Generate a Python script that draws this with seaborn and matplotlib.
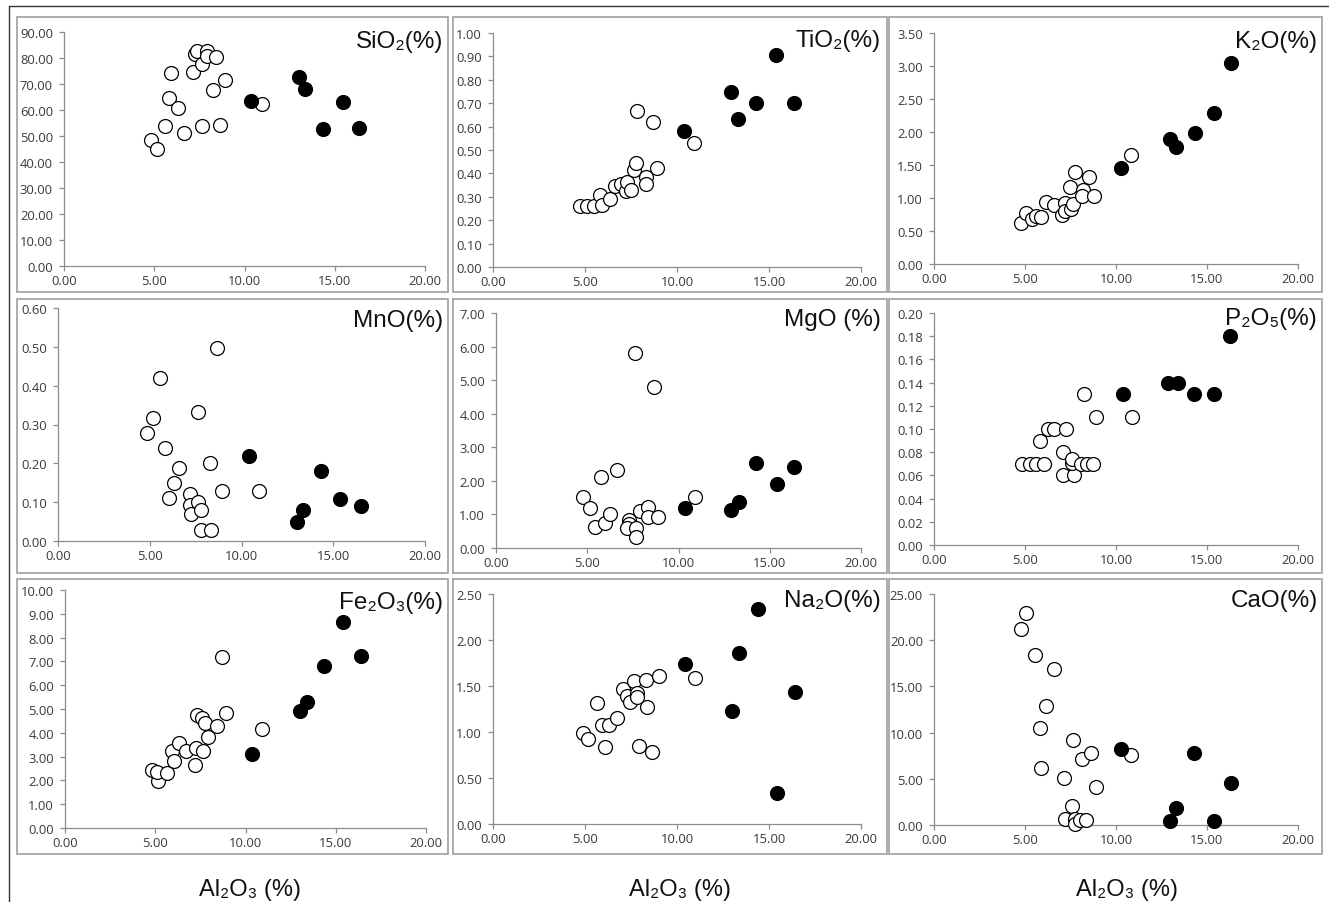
import numpy as np
import pandas as pd
import seaborn as sns
import matplotlib.pyplot as plt
from matplotlib.patches import Rectangle
from matplotlib.lines import Line2D
from matplotlib.ticker import FormatStrFormatter, MultipleLocator

# ---------------- data (Al2O3 % on x, oxide % on y) ----------------
# open circles
sio2_open_al = [4.84, 5.18, 5.58, 5.82, 5.95, 6.30, 6.64, 7.15, 7.25, 7.36, 7.65, 7.62, 7.90, 7.95, 8.41, 8.26, 8.67, 8.91, 10.96]
sio2_open = [48.3, 44.9, 54.0, 64.6, 74.2, 60.9, 51.3, 74.7, 81.4, 82.7, 77.6, 53.7, 82.6, 80.9, 80.4, 67.8, 54.4, 71.7, 62.3]
# filled circles
sio2_fill_al = [10.35, 13.00, 13.35, 14.36, 15.43, 16.36]
sio2_fill = [63.3, 72.7, 68.2, 52.8, 62.9, 53.1]

tio2_open_al = [4.75, 5.11, 5.48, 5.80, 5.93, 6.38, 6.62, 6.98, 7.22, 7.29, 7.52, 7.65, 7.76, 7.83, 8.34, 8.31, 8.70, 8.90, 10.90]
tio2_open = [0.259, 0.259, 0.259, 0.306, 0.267, 0.289, 0.346, 0.356, 0.324, 0.363, 0.331, 0.413, 0.445, 0.668, 0.384, 0.356, 0.621, 0.424, 0.529]
tio2_fill_al = [10.39, 12.96, 13.33, 14.32, 15.38, 16.34]
tio2_fill = [0.580, 0.748, 0.632, 0.700, 0.906, 0.700]

k2o_open_al = [4.80, 5.05, 5.40, 5.62, 5.90, 6.15, 6.60, 7.05, 7.18, 7.18, 7.55, 7.65, 7.48, 7.72, 8.20, 8.15, 8.52, 8.80, 10.85]
k2o_open = [0.616, 0.768, 0.677, 0.732, 0.707, 0.939, 0.894, 0.742, 0.929, 0.808, 0.838, 0.909, 1.162, 1.389, 1.126, 1.025, 1.323, 1.035, 1.646]
k2o_fill_al = [10.30, 12.95, 13.28, 14.32, 15.38, 16.30]
k2o_fill = [1.455, 1.889, 1.778, 1.985, 2.288, 3.050]

mno_open_al = [4.85, 5.15, 5.58, 5.85, 6.04, 6.33, 6.60, 7.18, 7.18, 7.27, 7.64, 7.64, 7.82, 7.82, 8.31, 8.36, 8.64, 8.95, 10.95]
mno_open = [0.279, 0.318, 0.419, 0.239, 0.110, 0.149, 0.189, 0.120, 0.093, 0.069, 0.101, 0.331, 0.080, 0.029, 0.200, 0.029, 0.497, 0.129, 0.129]
mno_fill_al = [10.40, 13.00, 13.33, 14.33, 15.36, 16.49]
mno_fill = [0.219, 0.048, 0.080, 0.179, 0.109, 0.089]

mgo_open_al = [4.76, 5.14, 5.45, 5.73, 5.95, 6.26, 6.64, 7.28, 7.28, 7.17, 7.65, 7.69, 7.63, 7.87, 8.33, 8.33, 8.64, 8.87, 10.91]
mgo_open = [1.51, 1.20, 0.62, 2.11, 0.73, 1.00, 2.33, 0.84, 0.72, 0.59, 0.59, 0.32, 5.81, 1.11, 1.21, 0.91, 4.79, 0.93, 1.51]
mgo_fill_al = [10.34, 12.90, 13.30, 14.24, 15.37, 16.34]
mgo_fill = [1.18, 1.13, 1.38, 2.53, 1.91, 2.40]

p2o5_open_al = [4.84, 5.25, 5.63, 6.02, 5.82, 6.28, 6.61, 7.28, 7.10, 7.10, 7.71, 7.56, 7.60, 8.07, 8.39, 8.72, 8.26, 8.88, 10.86]
p2o5_open = [0.070, 0.070, 0.070, 0.070, 0.090, 0.100, 0.100, 0.100, 0.080, 0.060, 0.060, 0.071, 0.074, 0.070, 0.070, 0.070, 0.130, 0.110, 0.110]
p2o5_fill_al = [10.37, 12.84, 13.39, 14.31, 15.36, 16.29]
p2o5_fill = [0.130, 0.140, 0.140, 0.130, 0.130, 0.180]

fe2o3_open_al = [4.84, 5.13, 5.08, 5.63, 5.91, 6.04, 6.33, 6.70, 7.20, 7.26, 7.29, 7.61, 7.76, 7.66, 7.90, 8.40, 8.68, 8.92, 10.93]
fe2o3_open = [2.45, 1.99, 2.34, 2.29, 3.24, 2.80, 3.59, 3.24, 2.66, 3.36, 4.76, 4.64, 4.43, 3.22, 3.83, 4.27, 7.19, 4.85, 4.15]
fe2o3_fill_al = [10.38, 13.02, 13.39, 14.37, 15.38, 16.40]
fe2o3_fill = [3.13, 4.92, 5.31, 6.81, 8.66, 7.23]

na2o_open_al = [4.90, 5.17, 5.66, 5.93, 6.07, 6.31, 6.76, 7.07, 7.29, 7.44, 7.65, 7.80, 7.80, 7.93, 8.34, 8.38, 8.65, 9.01, 10.97]
na2o_open = [0.986, 0.924, 1.310, 1.080, 0.833, 1.080, 1.149, 1.467, 1.395, 1.322, 1.558, 1.420, 1.377, 0.851, 1.565, 1.268, 0.779, 1.612, 1.587]
na2o_fill_al = [10.43, 13.00, 13.36, 14.38, 15.41, 16.41]
na2o_fill = [1.739, 1.225, 1.862, 2.337, 0.337, 1.438]

cao_open_al = [4.76, 5.07, 5.53, 5.81, 5.90, 6.17, 6.59, 7.12, 7.18, 7.58, 7.64, 7.73, 7.77, 8.00, 8.15, 8.33, 8.64, 8.88, 10.84]
cao_open = [21.25, 22.95, 18.44, 10.45, 6.20, 12.86, 16.93, 5.04, 0.61, 2.05, 9.19, 0.61, 0.07, 0.50, 7.17, 0.50, 7.82, 4.14, 7.56]
cao_fill_al = [10.26, 12.95, 13.28, 14.27, 15.37, 16.30]
cao_fill = [8.18, 0.43, 1.80, 7.82, 0.43, 4.50]

titles = ["SiO₂(%)", "TiO₂(%)", "K₂O(%)", "MnO(%)", "MgO (%)", "P₂O₅(%)", "Fe₂O₃(%)", "Na₂O(%)", "CaO(%)"]
y_max = [90, 1.0, 3.5, 0.6, 7.0, 0.2, 10.0, 2.5, 25.0]
y_step = [10, 0.1, 0.5, 0.1, 1.0, 0.02, 1.0, 0.5, 5.0]
x_label = "Al₂O₃ (%)"

series = [
    (sio2_open_al, sio2_open, sio2_fill_al, sio2_fill),
    (tio2_open_al, tio2_open, tio2_fill_al, tio2_fill),
    (k2o_open_al, k2o_open, k2o_fill_al, k2o_fill),
    (mno_open_al, mno_open, mno_fill_al, mno_fill),
    (mgo_open_al, mgo_open, mgo_fill_al, mgo_fill),
    (p2o5_open_al, p2o5_open, p2o5_fill_al, p2o5_fill),
    (fe2o3_open_al, fe2o3_open, fe2o3_fill_al, fe2o3_fill),
    (na2o_open_al, na2o_open, na2o_fill_al, na2o_fill),
    (cao_open_al, cao_open, cao_fill_al, cao_fill),
]

# ---------------- layout (pixels) ----------------
W, H = 1329, 903
axes_px = [  # left, right, top, bottom
    (64, 425, 33, 267), (493, 861, 34, 268), (934, 1298, 34, 265),
    (58, 425, 309, 542), (496, 861, 314, 549), (934, 1298, 314, 546),
    (65, 426, 591, 829), (493, 861, 595, 825), (934, 1298, 595, 826),
]
box_cols = [(17, 448), (453, 887), (889, 1322)]
box_rows = [(18, 293), (300, 574), (580, 855)]
title_pos = [  # right x, baseline y
    (443, 48), (881, 47), (1317, 48),
    (443, 327), (881, 326), (1317, 325),
    (443, 609), (881, 607), (1318, 607),
]
label_cx = [250, 680, 1127]

sns.set_theme(style="white")
plt.rcParams['font.family'] = ['Open Sans', 'DejaVu Sans']

fig = plt.figure(figsize=(W / 100, H / 100), dpi=100)
fig.patch.set_facecolor("white")

# outer frame lines (left and top)
fig.add_artist(Line2D([9 / W, 9 / W], [0, 1 - 7 / H], color="#333333", lw=1.0))
fig.add_artist(Line2D([9 / W, 1], [1 - 7 / H, 1 - 7 / H], color="#333333", lw=1.0))

# panel boxes
for (t, b) in box_rows:
    for (l, r) in box_cols:
        fig.add_artist(Rectangle((l / W, 1 - b / H), (r - l) / W, (b - t) / H,
                                 fill=False, edgecolor="#a6a6a6", lw=1.3))

spine_col = "#8c8c8c"
for i, (ox, oy, fx, fy) in enumerate(series):
    l, r, t, b = axes_px[i]
    ax = fig.add_axes([l / W, 1 - b / H, (r - l) / W, (b - t) / H])
    ax.set_facecolor("none")
    d_open = pd.DataFrame({"al": ox, "v": oy})
    d_fill = pd.DataFrame({"al": fx, "v": fy})
    sns.scatterplot(data=d_open, x="al", y="v", ax=ax, s=100, color="white",
                    edgecolor="black", linewidth=0.9, zorder=3, clip_on=False)
    sns.scatterplot(data=d_fill, x="al", y="v", ax=ax, s=100, color="black",
                    edgecolor="black", linewidth=0.9, zorder=4, clip_on=False)
    ax.set_xlim(0, 20)
    ax.set_ylim(0, y_max[i])
    ax.xaxis.set_major_locator(MultipleLocator(5))
    ax.yaxis.set_major_locator(MultipleLocator(y_step[i]))
    ax.xaxis.set_major_formatter(FormatStrFormatter("%.2f"))
    ax.yaxis.set_major_formatter(FormatStrFormatter("%.2f"))
    ax.set_xlabel("")
    ax.set_ylabel("")
    for s in ["top", "right"]:
        ax.spines[s].set_visible(False)
    for s in ["left", "bottom"]:
        ax.spines[s].set_color(spine_col)
        ax.spines[s].set_linewidth(0.9)
    ax.tick_params(axis="both", which="major", direction="out", length=3.5,
                   width=0.9, color=spine_col, labelsize=9.4, labelcolor="#3a3a3a",
                   left=True, bottom=True)
    ax.tick_params(axis="y", pad=4.5)
    ax.tick_params(axis="x", pad=2)
    ax.grid(False)
    tx, ty = title_pos[i]
    fig.text(tx / W, 1 - ty / H, titles[i], ha="right", va="baseline",
             fontsize=17.5, color="#111111",
             family=['Liberation Sans', 'DejaVu Sans'])

for cx in label_cx:
    fig.text(cx / W, 1 - 896 / H, x_label, ha="center", va="baseline",
             fontsize=17, color="#111111",
             family=['Liberation Sans', 'DejaVu Sans'])

fig.savefig("out.png", dpi=100, facecolor="white")
